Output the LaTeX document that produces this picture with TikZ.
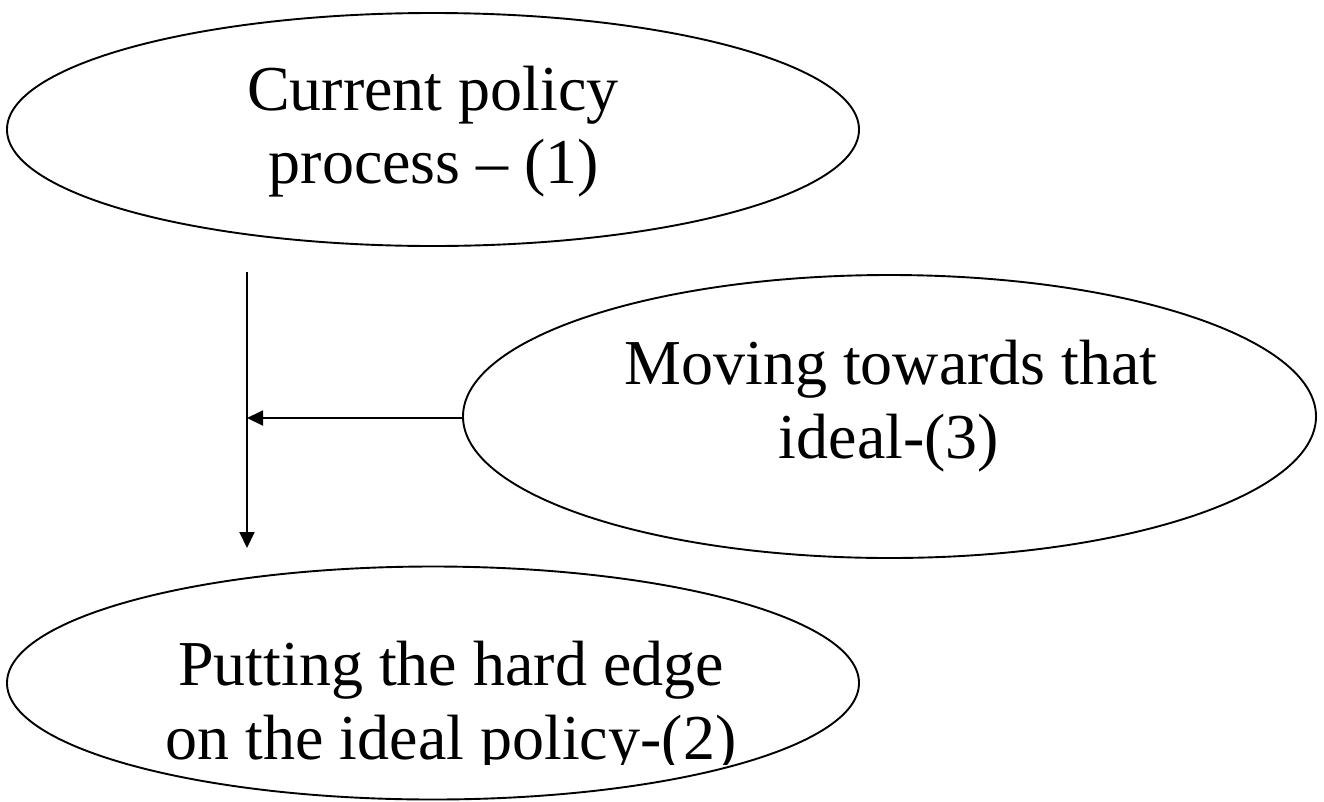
\documentclass[tikz,border=0pt]{standalone}
\usepackage{fontspec}
\setmainfont{Liberation Serif}
\usetikzlibrary{shapes.geometric,arrows.meta}
\begin{document}
\begin{tikzpicture}[x=1pt,y=-1pt,
  oval/.style={draw=black,line width=1.9pt,ellipse,inner sep=0pt},
  lbl/.style={anchor=base,inner sep=0pt,font=\fontsize{64}{74}\selectfont},
  conn/.style={draw=black,line width=1.9pt,-{Triangle[length=16pt,width=15pt]}}]
\useasboundingbox (0,0) rectangle (1324,801);
\clip (0,0) rectangle (1324,801);
\node[oval,minimum width=852pt,minimum height=233pt] (cur) at (433,129.5) {};
\node[oval,minimum width=853pt,minimum height=283pt] (mov) at (889.5,416.5) {};
\node[oval,minimum width=852pt,minimum height=233pt] (put) at (433,683) {};
\node[lbl] (t1a) at (433,110) {Current policy};
\node[lbl] (t1b) at (434,183) {process -- (1)};
\node[lbl] (t3a) at (891,384) {Moving towards that};
\node[lbl] (t3b) at (889,458) {ideal-(3)};
\begin{scope}
\clip (0,600) rectangle (1324,764);
\node[lbl] (t2a) at (451,685) {Putting the hard edge};
\node[lbl] (t2b) at (451,759) {on the ideal policy-(2)};
\end{scope}
\coordinate (s) at (247,272);
\coordinate (e) at (247,548);
\coordinate (j) at (247,418);
\draw[conn] (s) -- (e);
\draw[conn] (mov.west |- j) -- (j);
\end{tikzpicture}
\end{document}
